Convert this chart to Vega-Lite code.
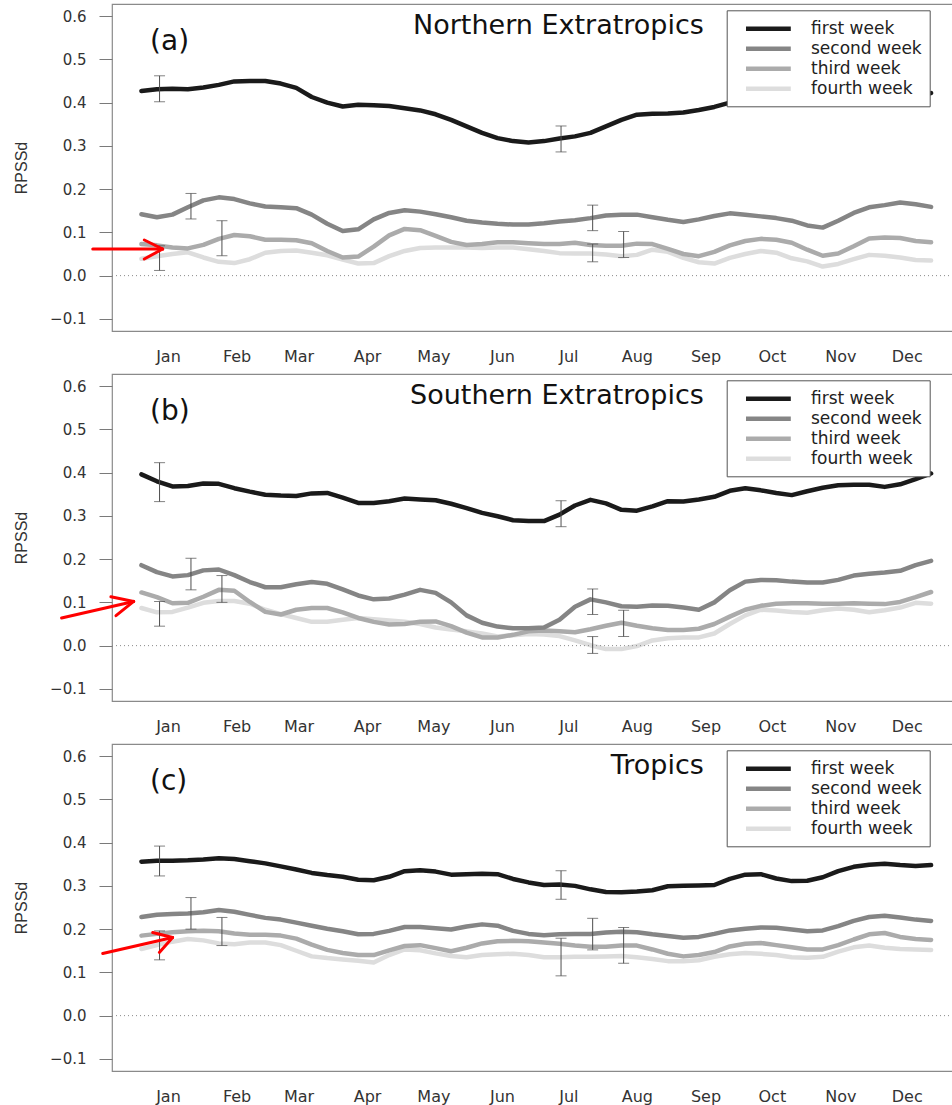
{
"$schema": "https://vega.github.io/schema/vega-lite/v6.json",
"background": "white",
"padding": {"left": 12, "top": 3, "right": 0, "bottom": 0},
"config": {
  "font": "DejaVu Sans",
  "view": {"stroke": "#8a8a8a", "strokeWidth": 1.2},
  "axis": {"grid": false, "domain": false, "labelColor": "#333333", "tickColor": "#7a7a7a", "titleColor": "#333333"}
},
"datasets": {
  "series": [
{"panel":"a","day":3,"first week":0.427,"second week":0.142,"third week":0.073,"fourth week":0.039},
{"panel":"a","day":10,"first week":0.431,"second week":0.135,"third week":0.070,"fourth week":0.045},
{"panel":"a","day":17,"first week":0.432,"second week":0.141,"third week":0.065,"fourth week":0.050},
{"panel":"a","day":24,"first week":0.431,"second week":0.158,"third week":0.063,"fourth week":0.054},
{"panel":"a","day":31,"first week":0.435,"second week":0.174,"third week":0.071,"fourth week":0.042},
{"panel":"a","day":38,"first week":0.441,"second week":0.181,"third week":0.085,"fourth week":0.032},
{"panel":"a","day":45,"first week":0.449,"second week":0.177,"third week":0.094,"fourth week":0.029},
{"panel":"a","day":52,"first week":0.450,"second week":0.167,"third week":0.091,"fourth week":0.038},
{"panel":"a","day":59,"first week":0.450,"second week":0.160,"third week":0.083,"fourth week":0.053},
{"panel":"a","day":66,"first week":0.444,"second week":0.158,"third week":0.083,"fourth week":0.057},
{"panel":"a","day":73,"first week":0.434,"second week":0.156,"third week":0.082,"fourth week":0.058},
{"panel":"a","day":80,"first week":0.413,"second week":0.141,"third week":0.075,"fourth week":0.053},
{"panel":"a","day":87,"first week":0.400,"second week":0.120,"third week":0.057,"fourth week":0.047},
{"panel":"a","day":94,"first week":0.391,"second week":0.103,"third week":0.042,"fourth week":0.037},
{"panel":"a","day":101,"first week":0.395,"second week":0.107,"third week":0.044,"fourth week":0.028},
{"panel":"a","day":108,"first week":0.394,"second week":0.130,"third week":0.067,"fourth week":0.029},
{"panel":"a","day":115,"first week":0.392,"second week":0.145,"third week":0.093,"fourth week":0.045},
{"panel":"a","day":122,"first week":0.387,"second week":0.151,"third week":0.108,"fourth week":0.057},
{"panel":"a","day":129,"first week":0.382,"second week":0.148,"third week":0.105,"fourth week":0.064},
{"panel":"a","day":136,"first week":0.373,"second week":0.142,"third week":0.092,"fourth week":0.065},
{"panel":"a","day":143,"first week":0.360,"second week":0.135,"third week":0.078,"fourth week":0.065},
{"panel":"a","day":150,"first week":0.345,"second week":0.127,"third week":0.071,"fourth week":0.065},
{"panel":"a","day":157,"first week":0.330,"second week":0.123,"third week":0.073,"fourth week":0.064},
{"panel":"a","day":164,"first week":0.318,"second week":0.120,"third week":0.077,"fourth week":0.065},
{"panel":"a","day":171,"first week":0.311,"second week":0.118,"third week":0.077,"fourth week":0.065},
{"panel":"a","day":178,"first week":0.308,"second week":0.118,"third week":0.075,"fourth week":0.061},
{"panel":"a","day":185,"first week":0.311,"second week":0.121,"third week":0.073,"fourth week":0.057},
{"panel":"a","day":192,"first week":0.317,"second week":0.125,"third week":0.073,"fourth week":0.052},
{"panel":"a","day":199,"first week":0.322,"second week":0.128,"third week":0.076,"fourth week":0.051},
{"panel":"a","day":206,"first week":0.330,"second week":0.133,"third week":0.071,"fourth week":0.051},
{"panel":"a","day":213,"first week":0.345,"second week":0.139,"third week":0.069,"fourth week":0.049},
{"panel":"a","day":220,"first week":0.360,"second week":0.141,"third week":0.069,"fourth week":0.045},
{"panel":"a","day":227,"first week":0.372,"second week":0.141,"third week":0.074,"fourth week":0.048},
{"panel":"a","day":234,"first week":0.374,"second week":0.135,"third week":0.073,"fourth week":0.060},
{"panel":"a","day":241,"first week":0.375,"second week":0.129,"third week":0.062,"fourth week":0.055},
{"panel":"a","day":248,"first week":0.377,"second week":0.124,"third week":0.050,"fourth week":0.041},
{"panel":"a","day":255,"first week":0.383,"second week":0.130,"third week":0.045,"fourth week":0.031},
{"panel":"a","day":262,"first week":0.390,"second week":0.138,"third week":0.055,"fourth week":0.028},
{"panel":"a","day":269,"first week":0.400,"second week":0.144,"third week":0.070,"fourth week":0.041},
{"panel":"a","day":276,"first week":0.408,"second week":0.141,"third week":0.080,"fourth week":0.050},
{"panel":"a","day":283,"first week":0.412,"second week":0.137,"third week":0.085,"fourth week":0.057},
{"panel":"a","day":290,"first week":0.409,"second week":0.133,"third week":0.083,"fourth week":0.053},
{"panel":"a","day":297,"first week":0.403,"second week":0.127,"third week":0.076,"fourth week":0.040},
{"panel":"a","day":304,"first week":0.398,"second week":0.116,"third week":0.060,"fourth week":0.033},
{"panel":"a","day":311,"first week":0.400,"second week":0.111,"third week":0.046,"fourth week":0.021},
{"panel":"a","day":318,"first week":0.405,"second week":0.127,"third week":0.051,"fourth week":0.027},
{"panel":"a","day":325,"first week":0.412,"second week":0.145,"third week":0.068,"fourth week":0.038},
{"panel":"a","day":332,"first week":0.419,"second week":0.158,"third week":0.086,"fourth week":0.048},
{"panel":"a","day":339,"first week":0.420,"second week":0.163,"third week":0.088,"fourth week":0.046},
{"panel":"a","day":346,"first week":0.419,"second week":0.169,"third week":0.087,"fourth week":0.042},
{"panel":"a","day":353,"first week":0.416,"second week":0.165,"third week":0.080,"fourth week":0.036},
{"panel":"a","day":360,"first week":0.422,"second week":0.159,"third week":0.077,"fourth week":0.035},
{"panel":"b","day":3,"first week":0.396,"second week":0.186,"third week":0.123,"fourth week":0.087},
{"panel":"b","day":10,"first week":0.380,"second week":0.170,"third week":0.112,"fourth week":0.077},
{"panel":"b","day":17,"first week":0.368,"second week":0.160,"third week":0.098,"fourth week":0.078},
{"panel":"b","day":24,"first week":0.369,"second week":0.163,"third week":0.099,"fourth week":0.088},
{"panel":"b","day":31,"first week":0.375,"second week":0.174,"third week":0.113,"fourth week":0.099},
{"panel":"b","day":38,"first week":0.374,"second week":0.176,"third week":0.129,"fourth week":0.103},
{"panel":"b","day":45,"first week":0.364,"second week":0.163,"third week":0.127,"fourth week":0.103},
{"panel":"b","day":52,"first week":0.356,"second week":0.147,"third week":0.101,"fourth week":0.097},
{"panel":"b","day":59,"first week":0.349,"second week":0.135,"third week":0.078,"fourth week":0.083},
{"panel":"b","day":66,"first week":0.347,"second week":0.135,"third week":0.072,"fourth week":0.073},
{"panel":"b","day":73,"first week":0.346,"second week":0.142,"third week":0.083,"fourth week":0.064},
{"panel":"b","day":80,"first week":0.352,"second week":0.147,"third week":0.087,"fourth week":0.055},
{"panel":"b","day":87,"first week":0.353,"second week":0.143,"third week":0.087,"fourth week":0.055},
{"panel":"b","day":94,"first week":0.342,"second week":0.130,"third week":0.077,"fourth week":0.060},
{"panel":"b","day":101,"first week":0.330,"second week":0.116,"third week":0.064,"fourth week":0.064},
{"panel":"b","day":108,"first week":0.330,"second week":0.107,"third week":0.055,"fourth week":0.061},
{"panel":"b","day":115,"first week":0.334,"second week":0.109,"third week":0.049,"fourth week":0.058},
{"panel":"b","day":122,"first week":0.340,"second week":0.118,"third week":0.050,"fourth week":0.055},
{"panel":"b","day":129,"first week":0.338,"second week":0.129,"third week":0.055,"fourth week":0.050},
{"panel":"b","day":136,"first week":0.336,"second week":0.122,"third week":0.056,"fourth week":0.042},
{"panel":"b","day":143,"first week":0.328,"second week":0.100,"third week":0.045,"fourth week":0.037},
{"panel":"b","day":150,"first week":0.318,"second week":0.070,"third week":0.030,"fourth week":0.033},
{"panel":"b","day":157,"first week":0.307,"second week":0.053,"third week":0.019,"fourth week":0.028},
{"panel":"b","day":164,"first week":0.299,"second week":0.044,"third week":0.019,"fourth week":0.021},
{"panel":"b","day":171,"first week":0.290,"second week":0.040,"third week":0.025,"fourth week":0.024},
{"panel":"b","day":178,"first week":0.288,"second week":0.040,"third week":0.033,"fourth week":0.027},
{"panel":"b","day":185,"first week":0.288,"second week":0.042,"third week":0.035,"fourth week":0.026},
{"panel":"b","day":192,"first week":0.303,"second week":0.060,"third week":0.033,"fourth week":0.022},
{"panel":"b","day":199,"first week":0.324,"second week":0.090,"third week":0.031,"fourth week":0.012},
{"panel":"b","day":206,"first week":0.337,"second week":0.107,"third week":0.038,"fourth week":0.001},
{"panel":"b","day":213,"first week":0.329,"second week":0.100,"third week":0.046,"fourth week":-0.008},
{"panel":"b","day":220,"first week":0.314,"second week":0.091,"third week":0.053,"fourth week":-0.008},
{"panel":"b","day":227,"first week":0.312,"second week":0.090,"third week":0.046,"fourth week":-0.001},
{"panel":"b","day":234,"first week":0.322,"second week":0.093,"third week":0.040,"fourth week":0.012},
{"panel":"b","day":241,"first week":0.334,"second week":0.092,"third week":0.036,"fourth week":0.017},
{"panel":"b","day":248,"first week":0.333,"second week":0.088,"third week":0.036,"fourth week":0.019},
{"panel":"b","day":255,"first week":0.338,"second week":0.083,"third week":0.039,"fourth week":0.019},
{"panel":"b","day":262,"first week":0.344,"second week":0.100,"third week":0.050,"fourth week":0.028},
{"panel":"b","day":269,"first week":0.358,"second week":0.128,"third week":0.067,"fourth week":0.050},
{"panel":"b","day":276,"first week":0.364,"second week":0.148,"third week":0.083,"fourth week":0.070},
{"panel":"b","day":283,"first week":0.359,"second week":0.152,"third week":0.092,"fourth week":0.083},
{"panel":"b","day":290,"first week":0.353,"second week":0.151,"third week":0.097,"fourth week":0.081},
{"panel":"b","day":297,"first week":0.348,"second week":0.148,"third week":0.098,"fourth week":0.078},
{"panel":"b","day":304,"first week":0.357,"second week":0.146,"third week":0.098,"fourth week":0.076},
{"panel":"b","day":311,"first week":0.365,"second week":0.146,"third week":0.097,"fourth week":0.082},
{"panel":"b","day":318,"first week":0.371,"second week":0.152,"third week":0.097,"fourth week":0.086},
{"panel":"b","day":325,"first week":0.372,"second week":0.162,"third week":0.098,"fourth week":0.083},
{"panel":"b","day":332,"first week":0.372,"second week":0.166,"third week":0.097,"fourth week":0.077},
{"panel":"b","day":339,"first week":0.367,"second week":0.169,"third week":0.096,"fourth week":0.082},
{"panel":"b","day":346,"first week":0.373,"second week":0.173,"third week":0.101,"fourth week":0.088},
{"panel":"b","day":353,"first week":0.385,"second week":0.186,"third week":0.112,"fourth week":0.099},
{"panel":"b","day":360,"first week":0.398,"second week":0.196,"third week":0.124,"fourth week":0.097},
{"panel":"c","day":3,"first week":0.356,"second week":0.228,"third week":0.185,"fourth week":0.154},
{"panel":"c","day":10,"first week":0.358,"second week":0.233,"third week":0.189,"fourth week":0.163},
{"panel":"c","day":17,"first week":0.358,"second week":0.235,"third week":0.193,"fourth week":0.171},
{"panel":"c","day":24,"first week":0.359,"second week":0.236,"third week":0.195,"fourth week":0.177},
{"panel":"c","day":31,"first week":0.361,"second week":0.239,"third week":0.196,"fourth week":0.174},
{"panel":"c","day":38,"first week":0.364,"second week":0.244,"third week":0.195,"fourth week":0.167},
{"panel":"c","day":45,"first week":0.362,"second week":0.240,"third week":0.190,"fourth week":0.165},
{"panel":"c","day":52,"first week":0.357,"second week":0.233,"third week":0.187,"fourth week":0.169},
{"panel":"c","day":59,"first week":0.352,"second week":0.226,"third week":0.187,"fourth week":0.169},
{"panel":"c","day":66,"first week":0.345,"second week":0.222,"third week":0.185,"fourth week":0.163},
{"panel":"c","day":73,"first week":0.338,"second week":0.215,"third week":0.178,"fourth week":0.150},
{"panel":"c","day":80,"first week":0.330,"second week":0.208,"third week":0.164,"fourth week":0.137},
{"panel":"c","day":87,"first week":0.325,"second week":0.201,"third week":0.152,"fourth week":0.133},
{"panel":"c","day":94,"first week":0.321,"second week":0.195,"third week":0.145,"fourth week":0.130},
{"panel":"c","day":101,"first week":0.314,"second week":0.188,"third week":0.140,"fourth week":0.127},
{"panel":"c","day":108,"first week":0.313,"second week":0.189,"third week":0.140,"fourth week":0.123},
{"panel":"c","day":115,"first week":0.321,"second week":0.196,"third week":0.151,"fourth week":0.140},
{"panel":"c","day":122,"first week":0.334,"second week":0.205,"third week":0.161,"fourth week":0.153},
{"panel":"c","day":129,"first week":0.336,"second week":0.205,"third week":0.163,"fourth week":0.151},
{"panel":"c","day":136,"first week":0.333,"second week":0.202,"third week":0.156,"fourth week":0.144},
{"panel":"c","day":143,"first week":0.326,"second week":0.199,"third week":0.149,"fourth week":0.138},
{"panel":"c","day":150,"first week":0.327,"second week":0.206,"third week":0.157,"fourth week":0.135},
{"panel":"c","day":157,"first week":0.328,"second week":0.211,"third week":0.167,"fourth week":0.140},
{"panel":"c","day":164,"first week":0.327,"second week":0.208,"third week":0.172,"fourth week":0.142},
{"panel":"c","day":171,"first week":0.316,"second week":0.196,"third week":0.173,"fourth week":0.143},
{"panel":"c","day":178,"first week":0.308,"second week":0.189,"third week":0.172,"fourth week":0.140},
{"panel":"c","day":185,"first week":0.302,"second week":0.186,"third week":0.169,"fourth week":0.135},
{"panel":"c","day":192,"first week":0.303,"second week":0.188,"third week":0.166,"fourth week":0.135},
{"panel":"c","day":199,"first week":0.300,"second week":0.189,"third week":0.162,"fourth week":0.136},
{"panel":"c","day":206,"first week":0.292,"second week":0.189,"third week":0.159,"fourth week":0.136},
{"panel":"c","day":213,"first week":0.286,"second week":0.192,"third week":0.159,"fourth week":0.137},
{"panel":"c","day":220,"first week":0.285,"second week":0.194,"third week":0.162,"fourth week":0.138},
{"panel":"c","day":227,"first week":0.287,"second week":0.193,"third week":0.162,"fourth week":0.135},
{"panel":"c","day":234,"first week":0.290,"second week":0.188,"third week":0.153,"fourth week":0.131},
{"panel":"c","day":241,"first week":0.299,"second week":0.184,"third week":0.143,"fourth week":0.126},
{"panel":"c","day":248,"first week":0.300,"second week":0.180,"third week":0.137,"fourth week":0.126},
{"panel":"c","day":255,"first week":0.301,"second week":0.182,"third week":0.140,"fourth week":0.128},
{"panel":"c","day":262,"first week":0.302,"second week":0.189,"third week":0.147,"fourth week":0.136},
{"panel":"c","day":269,"first week":0.316,"second week":0.197,"third week":0.160,"fourth week":0.142},
{"panel":"c","day":276,"first week":0.326,"second week":0.201,"third week":0.166,"fourth week":0.145},
{"panel":"c","day":283,"first week":0.327,"second week":0.204,"third week":0.168,"fourth week":0.143},
{"panel":"c","day":290,"first week":0.317,"second week":0.203,"third week":0.163,"fourth week":0.140},
{"panel":"c","day":297,"first week":0.311,"second week":0.199,"third week":0.158,"fourth week":0.135},
{"panel":"c","day":304,"first week":0.312,"second week":0.195,"third week":0.153,"fourth week":0.134},
{"panel":"c","day":311,"first week":0.320,"second week":0.197,"third week":0.153,"fourth week":0.136},
{"panel":"c","day":318,"first week":0.334,"second week":0.207,"third week":0.163,"fourth week":0.148},
{"panel":"c","day":325,"first week":0.344,"second week":0.219,"third week":0.176,"fourth week":0.158},
{"panel":"c","day":332,"first week":0.349,"second week":0.228,"third week":0.188,"fourth week":0.162},
{"panel":"c","day":339,"first week":0.351,"second week":0.231,"third week":0.191,"fourth week":0.157},
{"panel":"c","day":346,"first week":0.348,"second week":0.227,"third week":0.182,"fourth week":0.154},
{"panel":"c","day":353,"first week":0.346,"second week":0.222,"third week":0.177,"fourth week":0.153},
{"panel":"c","day":360,"first week":0.348,"second week":0.219,"third week":0.175,"fourth week":0.152}
  ],
  "bars": [
{"panel":"a","day":11.2,"lo":0.402,"hi":0.462},
{"panel":"a","day":25.4,"lo":0.131,"hi":0.190},
{"panel":"a","day":11.2,"lo":0.012,"hi":0.069},
{"panel":"a","day":39.4,"lo":0.046,"hi":0.127},
{"panel":"a","day":192.7,"lo":0.286,"hi":0.346},
{"panel":"a","day":207,"lo":0.104,"hi":0.163},
{"panel":"a","day":207,"lo":0.032,"hi":0.073},
{"panel":"a","day":221,"lo":0.042,"hi":0.102},
{"panel":"b","day":11.2,"lo":0.333,"hi":0.423},
{"panel":"b","day":25.4,"lo":0.129,"hi":0.202},
{"panel":"b","day":11.2,"lo":0.045,"hi":0.102},
{"panel":"b","day":39.4,"lo":0.100,"hi":0.162},
{"panel":"b","day":192.7,"lo":0.275,"hi":0.335},
{"panel":"b","day":207,"lo":0.072,"hi":0.131},
{"panel":"b","day":221,"lo":0.021,"hi":0.082},
{"panel":"b","day":207,"lo":-0.018,"hi":0.021},
{"panel":"c","day":11.2,"lo":0.323,"hi":0.392},
{"panel":"c","day":25.4,"lo":0.200,"hi":0.273},
{"panel":"c","day":11.2,"lo":0.129,"hi":0.196},
{"panel":"c","day":39.4,"lo":0.162,"hi":0.227},
{"panel":"c","day":192.7,"lo":0.269,"hi":0.335},
{"panel":"c","day":207,"lo":0.152,"hi":0.225},
{"panel":"c","day":192.7,"lo":0.092,"hi":0.179},
{"panel":"c","day":221,"lo":0.121,"hi":0.204}
  ],
  "arrows": [
{"panel":"a","day":-19.0,"value":0.0616,"day2":12.6,"value2":0.0616},
{"panel":"a","day":4.3,"value":0.0824,"day2":12.6,"value2":0.0616},
{"panel":"a","day":4.3,"value":0.0385,"day2":12.6,"value2":0.0616},
{"panel":"b","day":-33.1,"value":0.0639,"day2":-0.5,"value2":0.1022},
{"panel":"b","day":-10.8,"value":0.1131,"day2":-0.5,"value2":0.1022},
{"panel":"b","day":-8.5,"value":0.0692,"day2":-0.5,"value2":0.1022},
{"panel":"c","day":-14.5,"value":0.1438,"day2":17.1,"value2":0.1807},
{"panel":"c","day":8.1,"value":0.1922,"day2":17.1,"value2":0.1807},
{"panel":"c","day":11.1,"value":0.1460,"day2":17.1,"value2":0.1807}
  ]
},
"spacing": 43,
"bounds": "flush",
"resolve": {"scale": {"color": "independent"}, "legend": {"color": "independent"}},
"vconcat": [
{
  "width": 841, "height": 327,
  "layer": [
    {"data": {"name": "series"},
     "transform": [{"filter": "datum.panel === 'a'"}, {"fold": ["fourth week", "third week", "second week", "first week"], "as": ["week", "value"]}],
     "mark": {"type": "line", "strokeWidth": 4.5, "strokeCap": "round", "strokeJoin": "round"},
     "encoding": {
       "x": {"field": "day", "type": "quantitative", "scale": {"domain": [-10.3, 369.9], "nice": false, "zero": false},
             "axis": {"title": null, "values": [15, 46, 74, 105, 135, 166, 196, 227, 258, 288, 319, 349], "labelExpr": "['Jan','Feb','Mar','Apr','May','Jun','Jul','Aug','Sep','Oct','Nov','Dec'][indexof([15,46,74,105,135,166,196,227,258,288,319,349], datum.value)]", "ticks": false, "tickSize": 0, "labelPadding": 17, "labelFontSize": 16, "labelFont": "DejaVu Sans", "labelFlush": false, "labelOverlap": false, "labelBound": false}},
       "y": {"field": "value", "type": "quantitative", "scale": {"domain": [-0.128, 0.628], "nice": false, "zero": false},
             "axis": {"title": "RPSSd", "values": [-0.1, 0, 0.1, 0.2, 0.3, 0.4, 0.5, 0.6], "format": ".1f", "tickSize": 13, "labelPadding": 13, "labelFontSize": 15, "labelFont": "DejaVu Sans", "labelFlush": false, "labelOverlap": false, "titleFont": "Liberation Sans", "titleFontSize": 16, "titleFontWeight": "normal", "titleX": -91, "titleY": 163.5, "titleBaseline": "middle", "titleAlign": "center"}},
       "color": {"field": "week", "type": "nominal",
                 "scale": {"domain": ["first week", "second week", "third week", "fourth week"], "range": ["#1a1a1a", "#858585", "#ababab", "#dddddd"]},
                 "legend": {"title": null, "orient": "none", "legendX": 614.7, "legendY": 6.3, "strokeColor": "#555555", "fillColor": "white", "padding": 8, "symbolType": "M0.1,0H5.7", "symbolSize": 256, "symbolStrokeWidth": 4.5, "labelFont": "DejaVu Sans", "labelFontSize": 17, "labelOffset": 55.3, "rowPadding": -1, "labelColor": "#222222"}}
     }},
    {"data": {"values": [{"value": 0}]},
     "mark": {"type": "rule", "color": "#8a8a8a", "strokeWidth": 1, "strokeDash": [1, 3]},
     "encoding": {"y": {"field": "value", "type": "quantitative"}}},
    {"data": {"name": "bars"},
     "transform": [{"filter": "datum.panel === 'a'"}],
     "layer": [
       {"mark": {"type": "rule", "color": "#4d4d4d", "strokeWidth": 1},
        "encoding": {"x": {"field": "day", "type": "quantitative"}, "y": {"field": "lo", "type": "quantitative"}, "y2": {"field": "hi"}}},
       {"mark": {"type": "tick", "orient": "horizontal", "color": "#4d4d4d", "size": 11, "thickness": 1},
        "encoding": {"x": {"field": "day", "type": "quantitative"}, "y": {"field": "lo", "type": "quantitative"}}},
       {"mark": {"type": "tick", "orient": "horizontal", "color": "#4d4d4d", "size": 11, "thickness": 1},
        "encoding": {"x": {"field": "day", "type": "quantitative"}, "y": {"field": "hi", "type": "quantitative"}}}
     ]},
    {"data": {"name": "arrows"},
     "transform": [{"filter": "datum.panel === 'a'"}],
     "mark": {"type": "rule", "color": "#ff0000", "strokeWidth": 3, "strokeCap": "round"},
     "encoding": {"x": {"field": "day", "type": "quantitative"}, "y": {"field": "value", "type": "quantitative"}, "x2": {"field": "day2"}, "y2": {"field": "value2"}}},
    {"data": {"values": [{}]},
     "mark": {"type": "text", "text": "(a)", "align": "left", "baseline": "alphabetic", "fontSize": 28, "font": "DejaVu Sans", "color": "#111111"},
     "encoding": {"x": {"datum": 6.9, "type": "quantitative"}, "y": {"datum": 0.5216, "type": "quantitative"}}},
    {"data": {"values": [{}]},
     "mark": {"type": "text", "text": "Northern Extratropics", "align": "right", "baseline": "alphabetic", "fontSize": 27, "font": "DejaVu Sans", "color": "#111111"},
     "encoding": {"x": {"datum": 257.3, "type": "quantitative"}, "y": {"datum": 0.5585, "type": "quantitative"}}}
  ]
},
{
  "width": 841, "height": 327,
  "layer": [
    {"data": {"name": "series"},
     "transform": [{"filter": "datum.panel === 'b'"}, {"fold": ["fourth week", "third week", "second week", "first week"], "as": ["week", "value"]}],
     "mark": {"type": "line", "strokeWidth": 4.5, "strokeCap": "round", "strokeJoin": "round"},
     "encoding": {
       "x": {"field": "day", "type": "quantitative", "scale": {"domain": [-10.3, 369.9], "nice": false, "zero": false},
             "axis": {"title": null, "values": [15, 46, 74, 105, 135, 166, 196, 227, 258, 288, 319, 349], "labelExpr": "['Jan','Feb','Mar','Apr','May','Jun','Jul','Aug','Sep','Oct','Nov','Dec'][indexof([15,46,74,105,135,166,196,227,258,288,319,349], datum.value)]", "ticks": false, "tickSize": 0, "labelPadding": 17, "labelFontSize": 16, "labelFont": "DejaVu Sans", "labelFlush": false, "labelOverlap": false, "labelBound": false}},
       "y": {"field": "value", "type": "quantitative", "scale": {"domain": [-0.128, 0.628], "nice": false, "zero": false},
             "axis": {"title": "RPSSd", "values": [-0.1, 0, 0.1, 0.2, 0.3, 0.4, 0.5, 0.6], "format": ".1f", "tickSize": 13, "labelPadding": 13, "labelFontSize": 15, "labelFont": "DejaVu Sans", "labelFlush": false, "labelOverlap": false, "titleFont": "Liberation Sans", "titleFontSize": 16, "titleFontWeight": "normal", "titleX": -91, "titleY": 163.5, "titleBaseline": "middle", "titleAlign": "center"}},
       "color": {"field": "week", "type": "nominal",
                 "scale": {"domain": ["first week", "second week", "third week", "fourth week"], "range": ["#1a1a1a", "#858585", "#ababab", "#dddddd"]},
                 "legend": {"title": null, "orient": "none", "legendX": 614.7, "legendY": 6.3, "strokeColor": "#555555", "fillColor": "white", "padding": 8, "symbolType": "M0.1,0H5.7", "symbolSize": 256, "symbolStrokeWidth": 4.5, "labelFont": "DejaVu Sans", "labelFontSize": 17, "labelOffset": 55.3, "rowPadding": -1, "labelColor": "#222222"}}
     }},
    {"data": {"values": [{"value": 0}]},
     "mark": {"type": "rule", "color": "#8a8a8a", "strokeWidth": 1, "strokeDash": [1, 3]},
     "encoding": {"y": {"field": "value", "type": "quantitative"}}},
    {"data": {"name": "bars"},
     "transform": [{"filter": "datum.panel === 'b'"}],
     "layer": [
       {"mark": {"type": "rule", "color": "#4d4d4d", "strokeWidth": 1},
        "encoding": {"x": {"field": "day", "type": "quantitative"}, "y": {"field": "lo", "type": "quantitative"}, "y2": {"field": "hi"}}},
       {"mark": {"type": "tick", "orient": "horizontal", "color": "#4d4d4d", "size": 11, "thickness": 1},
        "encoding": {"x": {"field": "day", "type": "quantitative"}, "y": {"field": "lo", "type": "quantitative"}}},
       {"mark": {"type": "tick", "orient": "horizontal", "color": "#4d4d4d", "size": 11, "thickness": 1},
        "encoding": {"x": {"field": "day", "type": "quantitative"}, "y": {"field": "hi", "type": "quantitative"}}}
     ]},
    {"data": {"name": "arrows"},
     "transform": [{"filter": "datum.panel === 'b'"}],
     "mark": {"type": "rule", "color": "#ff0000", "strokeWidth": 3, "strokeCap": "round"},
     "encoding": {"x": {"field": "day", "type": "quantitative"}, "y": {"field": "value", "type": "quantitative"}, "x2": {"field": "day2"}, "y2": {"field": "value2"}}},
    {"data": {"values": [{}]},
     "mark": {"type": "text", "text": "(b)", "align": "left", "baseline": "alphabetic", "fontSize": 28, "font": "DejaVu Sans", "color": "#111111"},
     "encoding": {"x": {"datum": 6.9, "type": "quantitative"}, "y": {"datum": 0.5216, "type": "quantitative"}}},
    {"data": {"values": [{}]},
     "mark": {"type": "text", "text": "Southern Extratropics", "align": "right", "baseline": "alphabetic", "fontSize": 27, "font": "DejaVu Sans", "color": "#111111"},
     "encoding": {"x": {"datum": 257.3, "type": "quantitative"}, "y": {"datum": 0.5585, "type": "quantitative"}}}
  ]
},
{
  "width": 841, "height": 327,
  "layer": [
    {"data": {"name": "series"},
     "transform": [{"filter": "datum.panel === 'c'"}, {"fold": ["fourth week", "third week", "second week", "first week"], "as": ["week", "value"]}],
     "mark": {"type": "line", "strokeWidth": 4.5, "strokeCap": "round", "strokeJoin": "round"},
     "encoding": {
       "x": {"field": "day", "type": "quantitative", "scale": {"domain": [-10.3, 369.9], "nice": false, "zero": false},
             "axis": {"title": null, "values": [15, 46, 74, 105, 135, 166, 196, 227, 258, 288, 319, 349], "labelExpr": "['Jan','Feb','Mar','Apr','May','Jun','Jul','Aug','Sep','Oct','Nov','Dec'][indexof([15,46,74,105,135,166,196,227,258,288,319,349], datum.value)]", "ticks": false, "tickSize": 0, "labelPadding": 17, "labelFontSize": 16, "labelFont": "DejaVu Sans", "labelFlush": false, "labelOverlap": false, "labelBound": false}},
       "y": {"field": "value", "type": "quantitative", "scale": {"domain": [-0.128, 0.628], "nice": false, "zero": false},
             "axis": {"title": "RPSSd", "values": [-0.1, 0, 0.1, 0.2, 0.3, 0.4, 0.5, 0.6], "format": ".1f", "tickSize": 13, "labelPadding": 13, "labelFontSize": 15, "labelFont": "DejaVu Sans", "labelFlush": false, "labelOverlap": false, "titleFont": "Liberation Sans", "titleFontSize": 16, "titleFontWeight": "normal", "titleX": -91, "titleY": 163.5, "titleBaseline": "middle", "titleAlign": "center"}},
       "color": {"field": "week", "type": "nominal",
                 "scale": {"domain": ["first week", "second week", "third week", "fourth week"], "range": ["#1a1a1a", "#858585", "#ababab", "#dddddd"]},
                 "legend": {"title": null, "orient": "none", "legendX": 614.7, "legendY": 6.3, "strokeColor": "#555555", "fillColor": "white", "padding": 8, "symbolType": "M0.1,0H5.7", "symbolSize": 256, "symbolStrokeWidth": 4.5, "labelFont": "DejaVu Sans", "labelFontSize": 17, "labelOffset": 55.3, "rowPadding": -1, "labelColor": "#222222"}}
     }},
    {"data": {"values": [{"value": 0}]},
     "mark": {"type": "rule", "color": "#8a8a8a", "strokeWidth": 1, "strokeDash": [1, 3]},
     "encoding": {"y": {"field": "value", "type": "quantitative"}}},
    {"data": {"name": "bars"},
     "transform": [{"filter": "datum.panel === 'c'"}],
     "layer": [
       {"mark": {"type": "rule", "color": "#4d4d4d", "strokeWidth": 1},
        "encoding": {"x": {"field": "day", "type": "quantitative"}, "y": {"field": "lo", "type": "quantitative"}, "y2": {"field": "hi"}}},
       {"mark": {"type": "tick", "orient": "horizontal", "color": "#4d4d4d", "size": 11, "thickness": 1},
        "encoding": {"x": {"field": "day", "type": "quantitative"}, "y": {"field": "lo", "type": "quantitative"}}},
       {"mark": {"type": "tick", "orient": "horizontal", "color": "#4d4d4d", "size": 11, "thickness": 1},
        "encoding": {"x": {"field": "day", "type": "quantitative"}, "y": {"field": "hi", "type": "quantitative"}}}
     ]},
    {"data": {"name": "arrows"},
     "transform": [{"filter": "datum.panel === 'c'"}],
     "mark": {"type": "rule", "color": "#ff0000", "strokeWidth": 3, "strokeCap": "round"},
     "encoding": {"x": {"field": "day", "type": "quantitative"}, "y": {"field": "value", "type": "quantitative"}, "x2": {"field": "day2"}, "y2": {"field": "value2"}}},
    {"data": {"values": [{}]},
     "mark": {"type": "text", "text": "(c)", "align": "left", "baseline": "alphabetic", "fontSize": 28, "font": "DejaVu Sans", "color": "#111111"},
     "encoding": {"x": {"datum": 6.9, "type": "quantitative"}, "y": {"datum": 0.5216, "type": "quantitative"}}},
    {"data": {"values": [{}]},
     "mark": {"type": "text", "text": "Tropics", "align": "right", "baseline": "alphabetic", "fontSize": 27, "font": "DejaVu Sans", "color": "#111111"},
     "encoding": {"x": {"datum": 257.3, "type": "quantitative"}, "y": {"datum": 0.5585, "type": "quantitative"}}}
  ]
}
]
}
